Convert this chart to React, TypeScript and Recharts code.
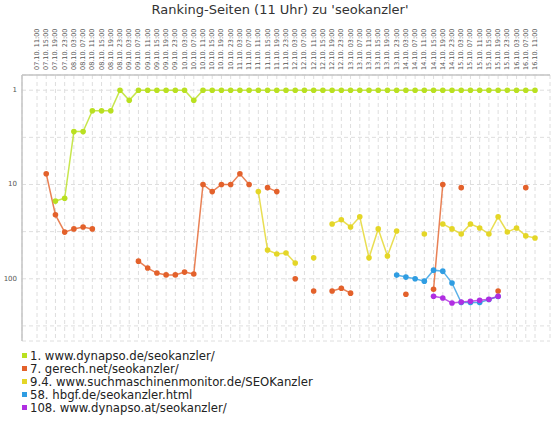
import React from 'react';
import { LineChart, Line, XAxis, YAxis, CartesianGrid } from 'recharts';

// Query times (every 4 hours)
const timeLabels = [
  '07.10. 11:00', '07.10. 15:00', '07.10. 19:00', '07.10. 23:00',
  '08.10. 03:00', '08.10. 07:00', '08.10. 11:00', '08.10. 15:00', '08.10. 19:00', '08.10. 23:00',
  '09.10. 03:00', '09.10. 07:00', '09.10. 11:00', '09.10. 15:00', '09.10. 19:00', '09.10. 23:00',
  '10.10. 03:00', '10.10. 07:00', '10.10. 11:00', '10.10. 15:00', '10.10. 19:00', '10.10. 23:00',
  '11.10. 03:00', '11.10. 07:00', '11.10. 11:00', '11.10. 15:00', '11.10. 19:00', '11.10. 23:00',
  '12.10. 03:00', '12.10. 07:00', '12.10. 11:00', '12.10. 15:00', '12.10. 19:00', '12.10. 23:00',
  '13.10. 03:00', '13.10. 07:00', '13.10. 11:00', '13.10. 15:00', '13.10. 19:00', '13.10. 23:00',
  '14.10. 03:00', '14.10. 07:00', '14.10. 11:00', '14.10. 15:00', '14.10. 19:00', '14.10. 23:00',
  '15.10. 03:00', '15.10. 07:00', '15.10. 11:00', '15.10. 15:00', '15.10. 19:00', '15.10. 23:00',
  '16.10. 03:00', '16.10. 07:00', '16.10. 11:00',
];

// Ranking positions per page (null = not ranked at that time)
const dynapsoDe = [
  null, null, 15, 14, 2.75, 2.75, 1.65, 1.65, 1.65, 1,
  1.28, 1, 1, 1, 1, 1, 1, 1.28, 1, 1,
  1, 1, 1, 1, 1, 1, 1, 1, 1, 1,
  1, 1, 1, 1, 1, 1, 1, 1, 1, 1,
  1, 1, 1, 1, 1, 1, 1, 1, 1, 1,
  1, 1, 1, 1, 1,
];

const gerechNet = [
  null, 7.7, 21, 32, 29.6, 28.2, 29.6, null, null, null,
  null, 65, 77, 87, 91, 91, 85, 89, 10, 11.9,
  10, 10, 7.7, 10, null, 10.8, 11.9, null, 100, null,
  135, null, 135, 126, 142, null, null, null, null, null,
  146, null, null, 129, 10, null, 10.8, null, null, null,
  135, null, null, 10.8, null,
];

const suchmaschinenmonitor = [
  null, null, null, null, null, null, null, null, null, null,
  null, null, null, null, null, null, null, null, null, null,
  null, null, null, null, 11.9, 49.5, 54.6, 53.3, 68, null,
  60, null, 26.2, 23.7, 28.2, 22, 60, 29.6, 57.3, 31.1,
  null, null, 33.5, null, 26.2, 29.6, 33.5, 26.2, 28.9, 33.5,
  22, 31.9, 28.9, 35.1, 36.9,
];

const hbgfDe = [
  null, null, null, null, null, null, null, null, null, null,
  null, null, null, null, null, null, null, null, null, null,
  null, null, null, null, null, null, null, null, null, null,
  null, null, null, null, null, null, null, null, null, 91.4,
  96, 100, 106, 81, 83, 111, 179, 179, 179, 166,
  154, null, null, null, null,
];

const dynapsoAt = [
  null, null, null, null, null, null, null, null, null, null,
  null, null, null, null, null, null, null, null, null, null,
  null, null, null, null, null, null, null, null, null, null,
  null, null, null, null, null, null, null, null, null, null,
  null, null, null, 153, 160, 181, 176, 173, 169, 165,
  153, null, null, null, null,
];

const seriesMeta = [
  { key: 'dynapsoDe', name: '1. www.dynapso.de/seokanzler/', color: '#b9e020', values: dynapsoDe },
  { key: 'gerechNet', name: '7. gerech.net/seokanzler/', color: '#e3612b', values: gerechNet },
  { key: 'suchmaschinenmonitor', name: '9.4. www.suchmaschinenmonitor.de/SEOKanzler', color: '#e4d627', values: suchmaschinenmonitor },
  { key: 'hbgfDe', name: '58. hbgf.de/seokanzler.html', color: '#2f9de2', values: hbgfDe },
  { key: 'dynapsoAt', name: '108. www.dynapso.at/seokanzler/', color: '#b02ee2', values: dynapsoAt },
];

const yTicks = [1, 3.162, 10, 31.62, 100, 316.2];
const yLabelled = [1, 10, 100];

const rows = timeLabels.map((label, i) => {
  const row: Record<string, string | number | null> = { label };
  seriesMeta.forEach((s) => {
    row[s.key] = s.values[i];
  });
  return row;
});

const frameColor = '#c4c4c4';
const gridColor = '#dedede';
const font = '"DejaVu Sans", Verdana, sans-serif';

const TimeTick = (props: any) => {
  const { x, y, payload } = props;
  return (
    <text
      x={x}
      y={y}
      transform={`rotate(-90, ${x}, ${y})`}
      textAnchor="start"
      dominantBaseline="central"
      fontSize={6.5}
      fontFamily={font}
      fill="#555"
    >
      {payload.value}
    </text>
  );
};

const RankTick = (props: any) => {
  const { x, y, payload } = props;
  if (!yLabelled.includes(payload.value)) return null;
  return (
    <text x={x} y={y} textAnchor="end" dominantBaseline="central" fontSize={7} fontFamily={font} fill="#555">
      {payload.value}
    </text>
  );
};

export default function App() {
  return (
    <div
      style={{
        position: 'absolute',
        left: 0,
        top: 0,
        width: 560,
        height: 423,
        background: '#fff',
        fontFamily: font,
      }}
    >
      <div
        style={{
          position: 'absolute',
          left: 0,
          top: 1,
          width: 560,
          textAlign: 'center',
          fontSize: 13,
          color: '#333',
          lineHeight: '18px',
        }}
      >
        Ranking-Seiten (11 Uhr) zu 'seokanzler'
      </div>
      <div style={{ position: 'absolute', left: 0, top: 0 }}>
        <LineChart width={560} height={423} data={rows} margin={{ top: 20, right: 10, bottom: 82, left: 0 }}>
          <CartesianGrid stroke={gridColor} strokeDasharray="4 3" />
          <XAxis
            dataKey="label"
            orientation="top"
            height={55}
            interval={0}
            padding={{ left: 15, right: 15 }}
            tick={<TimeTick />}
            tickLine={false}
            tickSize={0}
            tickMargin={5}
            axisLine={{ stroke: frameColor, strokeWidth: 1.5 }}
          />
          <XAxis
            xAxisId="frameBottom"
            dataKey="label"
            orientation="bottom"
            height={0}
            tick={false}
            tickLine={false}
            axisLine={{ stroke: frameColor, strokeWidth: 1.5 }}
          />
          <YAxis
            scale="log"
            type="number"
            domain={[0.69, 457]}
            allowDataOverflow
            reversed
            ticks={yTicks}
            interval={0}
            width={22}
            tick={<RankTick />}
            tickLine={false}
            tickSize={0}
            tickMargin={5}
            axisLine={{ stroke: frameColor, strokeWidth: 1.5 }}
          />
          <YAxis
            yAxisId="frameRight"
            orientation="right"
            width={0}
            tick={false}
            tickLine={false}
            axisLine={{ stroke: frameColor, strokeWidth: 1.5 }}
          />
          {seriesMeta.map((s) => (
            <Line
              key={s.key}
              type="linear"
              dataKey={s.key}
              name={s.name}
              stroke={s.color}
              strokeOpacity={0.8}
              strokeWidth={1.5}
              dot={{ r: 2.8, fill: s.color, stroke: 'none', strokeOpacity: 1 }}
              activeDot={false}
              connectNulls={false}
              isAnimationActive={false}
            />
          ))}
        </LineChart>
      </div>
      <div style={{ position: 'absolute', left: 22, top: 349 }}>
        {seriesMeta.map((s) => (
          <div key={s.key} style={{ display: 'flex', alignItems: 'center', height: 13, fontSize: 11.7, color: '#222' }}>
            <span style={{ display: 'inline-block', width: 5, height: 5, background: s.color, marginRight: 3 }} />
            <span style={{ whiteSpace: 'nowrap' }}>{s.name}</span>
          </div>
        ))}
      </div>
    </div>
  );
}
